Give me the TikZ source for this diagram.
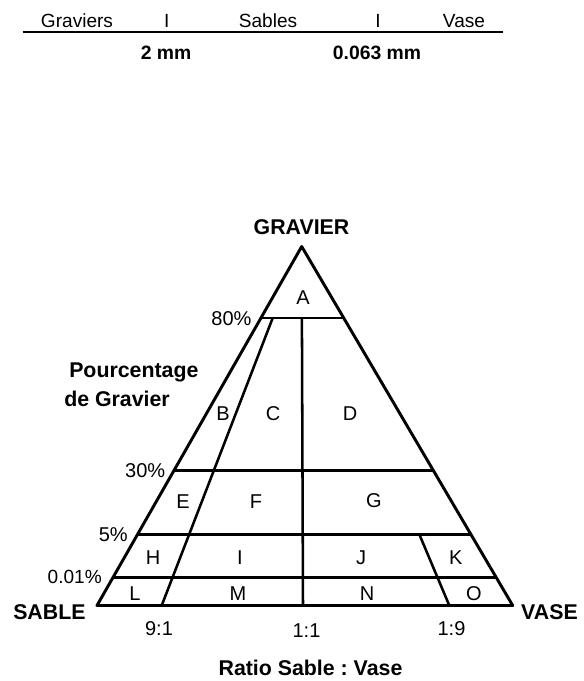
\documentclass[tikz,border=0pt]{standalone}
\usepackage{fontspec}
\setmainfont{Liberation Sans}
\usetikzlibrary{calc}
\frenchspacing
\begin{document}
\begin{tikzpicture}[x=0.75pt,y=-0.75pt,
  every node/.style={inner sep=0pt,text depth=0pt},
  txt/.style={font=\fontsize{14.3}{16}\selectfont,text height=10.24pt},
  mtxt/.style={font=\fontsize{15}{17}\selectfont,text height=10.74pt},
  btxt/.style={font=\fontsize{16}{18}\selectfont\bfseries,text height=11.46pt},
  stxt/.style={font=\fontsize{14.5}{16}\selectfont\bfseries,text height=10.38pt},
  zone/.style={font=\fontsize{15}{17}\selectfont,text height=10.74pt},
  edge/.style={line width=2.2pt,line join=round,line cap=round},
  grid/.style={line width=1.9pt}]
\useasboundingbox (0,0) rectangle (583,681);
% top scale
\coordinate (s0) at (22.7,32.3);
\coordinate (s1) at (503,32.3);
\draw[line width=1.3pt] (s0) -- (s1);
\node[txt] (gr) at (77,20.5) {Graviers};
\node[txt] (b1) at (166.7,20.5) {I};
\node[txt] (sa) at (268,20.5) {Sables};
\node[txt] (b2) at (378,20.5) {I};
\node[txt] (va) at (464,20.5) {Vase};
\node[stxt] (d1) at (166,52.3) {2 mm};
\node[stxt] (d2) at (377,52.3) {0.063 mm};
% triangle
\coordinate (P) at (301.7,246.5);
\coordinate (SL) at (97,605.5);
\coordinate (VR) at (512.7,605.5);
\draw[edge] (SL) -- (P) -- (VR) -- cycle;
\coordinate (L80) at ($(SL)!0.8008!(P)$);
\coordinate (R80) at ($(VR)!0.8008!(P)$);
\coordinate (L30) at ($(SL)!0.3755!(P)$);
\coordinate (R30) at ($(VR)!0.3755!(P)$);
\coordinate (L5) at ($(SL)!0.1983!(P)$);
\coordinate (R5) at ($(VR)!0.1983!(P)$);
\coordinate (L001) at ($(SL)!0.0786!(P)$);
\coordinate (R001) at ($(VR)!0.0786!(P)$);
\draw[grid] (L80) -- (R80);
\draw[grid] (L30) -- (R30);
\draw[grid] (L5) -- (R5);
\draw[grid] (L001) -- (R001);
\coordinate (V1t) at (301.9,318);
\coordinate (V1b) at (303,605.5);
\draw[grid] (V1t) -- (V1b);
\coordinate (N1t) at (272.7,318);
\coordinate (N1b) at (161.7,605.5);
\draw[grid] (N1t) -- (N1b);
\coordinate (N9t) at (419.3,534.3);
\coordinate (N9b) at (449.3,605.5);
\draw[grid] (N9t) -- (N9b);
% zone labels
\node[zone] (A) at (303,297) {A};
\node[zone] (B) at (223,413) {B};
\node[zone] (C) at (273,413) {C};
\node[zone] (D) at (350,413) {D};
\node[zone] (E) at (183,501) {E};
\node[zone] (F) at (256,501) {F};
\node[zone] (G) at (374,500) {G};
\node[zone] (H) at (153,557) {H};
\node[zone] (I) at (240,557) {I};
\node[zone] (J) at (361,557) {J};
\node[zone] (K) at (455.7,557) {K};
\node[zone] (L) at (135,593) {L};
\node[zone] (M) at (238,593) {M};
\node[zone] (N) at (367,593) {N};
\node[zone] (O) at (474,593) {O};
% percentages
\node[mtxt,anchor=east] (p80) at (251.7,318) {80\%};
\node[mtxt,anchor=east] (p30) at (165.5,470) {30\%};
\node[mtxt,anchor=east] (p5) at (128,534) {5\%};
\node[txt,anchor=east] (p001) at (102,576.7) {0.01\%};
% corner labels
\node[btxt] (gravier) at (301.5,227) {GRAVIER};
\node[btxt,anchor=west] (sable) at (13,611.7) {SABLE};
\node[btxt,anchor=east] (vase) at (578,611.7) {VASE};
\node[btxt,anchor=west] (pc1) at (69,370) {Pourcentage};
\node[btxt,anchor=west] (pc2) at (64,399) {de Gravier};
% ratios
\node[mtxt] (r91) at (159,628) {9:1};
\node[mtxt] (r11) at (306.5,630) {1:1};
\node[mtxt] (r19) at (451.5,628) {1:9};
\node[btxt] (ratio) at (310.5,668) {Ratio Sable : Vase};
\end{tikzpicture}
\end{document}
